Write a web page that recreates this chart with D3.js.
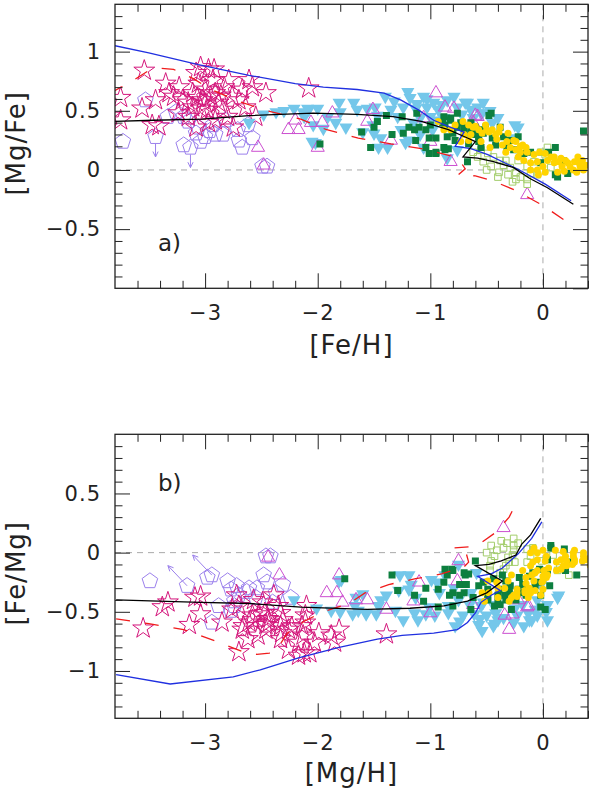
<!DOCTYPE html>
<html><head><meta charset="utf-8">
<script src="https://cdn.jsdelivr.net/npm/d3@7"></script>
<style>body{margin:0;background:#fff}</style>
</head><body>
<svg id="c" width="600" height="791"></svg>
<script>
// ---- data: [Fe/H], [Mg/Fe] ----
const xTickLabels=[-3,-2,-1,0];
const yTickLabelsA=[-0.5,0,0.5,1];
const yTickLabelsB=[-1,-0.5,0,0.5];

const stars=[[-3.54,0.84],[-3.75,0.61],[-3.75,0.42],[-3.56,0.52],[-3.47,0.38],[-3.41,0.37],[-3.44,0.59],[-3.35,0.73],[-3.32,0.65],[-3.28,0.62],[-3.23,0.70],[-3.20,0.59],[-3.24,0.48],[-3.15,0.45],[-3.11,0.65],[-3.08,0.82],[-3.06,0.73],[-3.07,0.61],[-3.02,0.59],[-3.04,0.52],[-3.00,0.68],[-2.97,0.85],[-2.92,0.85],[-2.93,0.76],[-2.98,0.51],[-2.91,0.65],[-2.88,0.57],[-2.84,0.51],[-2.91,0.42],[-2.97,0.40],[-3.08,0.36],[-2.83,0.70],[-2.79,0.76],[-2.76,0.62],[-2.80,0.45],[-2.75,0.36],[-2.70,0.59],[-2.67,0.68],[-2.64,0.53],[-2.61,0.76],[-2.58,0.70],[-2.55,0.45],[-2.46,0.65],[-2.08,0.69],[-3.11,0.53],[-3.04,0.87],[-2.95,0.62],[-3.15,0.57],[-2.86,0.63],[-3.00,0.56],[-4.19,0.64],[-3.84,0.46]];
const pentagons=[[-3.73,0.24],[-3.53,0.59],[-3.33,0.45],[-3.44,0.28],[-3.19,0.45],[-3.15,0.41],[-3.19,0.21],[-3.13,0.19],[-3.08,0.31],[-3.00,0.28],[-2.91,0.30],[-2.84,0.30],[-3.06,0.36],[-2.93,0.38],[-2.71,0.34],[-2.70,0.25],[-2.67,0.19],[-2.58,0.27],[-2.62,0.38],[-2.49,0.03],[-2.45,0.03],[-2.82,0.42],[-3.26,0.49],[-2.96,0.33],[-3.04,0.24]];
const upperLimits=[[-3.44,0.28,0.11],[-3.13,0.19,0.02]];
const openTriangles=[[-2.53,0.19],[-2.26,0.34],[-2.17,0.34],[-2.48,0.04],[-2.20,0.42],[-1.96,0.40],[-1.87,0.48],[-1.56,0.41],[-1.51,0.51],[-2.00,0.19],[-0.95,0.65],[-0.87,0.53],[-0.79,0.52],[-1.06,0.44],[-1.35,0.25],[-0.82,0.07],[-0.60,0.46],[-2.06,0.40],[-0.58,0.45],[-0.62,0.40],[-0.14,-0.21],[-1.00,0.24]];
const blueTriangles=[[-2.61,0.40],[-2.48,0.47],[-2.37,0.49],[-2.13,0.49],[-2.08,0.51],[-2.04,0.38],[-2.05,0.24],[-2.21,0.52],[-2.09,0.52],[-2.00,0.52],[-2.12,0.45],[-2.02,0.23],[-1.91,0.45],[-1.81,0.57],[-1.80,0.49],[-1.84,0.40],[-1.75,0.36],[-1.68,0.57],[-1.65,0.51],[-1.56,0.52],[-1.49,0.53],[-1.47,0.46],[-1.51,0.38],[-1.60,0.32],[-1.50,0.31],[-1.44,0.27],[-1.46,0.19],[-1.38,0.19],[-1.40,0.62],[-1.35,0.51],[-1.29,0.45],[-1.26,0.34],[-1.22,0.23],[-1.20,0.66],[-1.18,0.61],[-1.24,0.53],[-1.13,0.52],[-1.09,0.44],[-1.06,0.62],[-1.03,0.53],[-1.00,0.45],[-0.93,0.51],[-0.97,0.57],[-0.85,0.59],[-0.79,0.62],[-0.88,0.44],[-0.76,0.53],[-0.69,0.57],[-0.64,0.51],[-0.58,0.53],[-0.54,0.48],[-0.53,0.57],[-1.09,0.30],[-1.19,0.25],[-1.06,0.19],[-0.98,0.34],[-0.76,0.17],[-0.67,0.57],[-0.55,0.48],[-0.22,0.36],[-0.29,0.27],[-0.85,0.10],[-0.40,0.44],[-1.12,0.56],[-1.03,0.60],[-0.90,0.55],[-0.72,0.47],[-0.62,0.44],[-0.47,0.50],[-0.45,0.40],[-1.32,0.58],[-1.15,0.40],[-0.95,0.42],[-2.30,0.50],[-1.95,0.35],[-0.25,0.38]];
const greenSquares=[[-1.98,0.22],[-1.61,0.32],[-1.53,0.19],[-1.50,0.36],[-1.47,0.41],[-1.39,0.46],[-1.34,0.30],[-1.25,0.45],[-1.24,0.31],[-1.19,0.36],[-1.14,0.34],[-1.12,0.48],[-1.10,0.36],[-1.04,0.34],[-1.01,0.27],[-1.04,0.19],[-1.01,0.14],[-0.95,0.14],[-1.13,0.25],[-1.00,0.38],[-0.88,0.45],[-0.87,0.38],[-0.82,0.44],[-0.85,0.28],[-0.80,0.31],[-0.78,0.25],[-0.76,0.36],[-0.73,0.40],[-0.70,0.31],[-0.64,0.34],[-0.60,0.36],[-0.57,0.28],[-0.54,0.34],[-0.48,0.46],[-0.88,0.19],[-0.84,0.18],[-0.67,0.07],[-0.95,0.27],[-0.95,0.15],[-0.87,0.17],[-0.89,0.40],[-0.82,0.42],[-0.76,0.48],[-0.70,0.36],[-0.64,0.40],[-0.46,0.48],[-0.51,0.36],[-0.53,0.31],[-0.57,0.24],[-0.38,0.36],[-0.35,0.28],[-0.29,0.25],[-0.22,0.28],[-0.42,0.21],[-0.55,0.19],[-0.17,0.14],[-0.11,0.15],[-0.02,0.06],[0.05,0.15],[0.11,0.19],[0.18,0.08],[0.13,-0.06],[0.22,-0.03],[0.36,0.33],[-0.26,0.17],[0.11,-0.04],[-0.60,0.30],[-0.66,0.22],[-0.45,0.27],[-0.32,0.20]];
const lightSquares=[[-0.55,0.17],[-0.49,0.14],[-0.44,0.11],[-0.38,0.08],[-0.35,0.04],[-0.29,0.02],[-0.24,-0.02],[-0.20,-0.06],[-0.31,-0.04],[-0.39,-0.02],[-0.46,0.03],[-0.53,0.07],[-0.58,0.11],[-0.14,-0.08],[-0.11,-0.03],[-0.02,0.15],[0.02,0.13],[0.07,0.02],[-0.14,0.03],[-0.08,0.07],[-0.33,0.08],[-0.22,0.08],[-0.62,0.15],[-0.40,-0.06],[-0.24,-0.08],[0.04,0.19],[-0.14,-0.12],[-0.50,0.00],[-0.27,-0.10],[-0.05,-0.04]];
const yellowCircles=[[-0.93,0.41],[-0.88,0.34],[-0.71,0.41],[-0.64,0.30],[-0.62,0.36],[-0.57,0.34],[-0.54,0.31],[-0.51,0.38],[-0.48,0.32],[-0.45,0.34],[-0.42,0.30],[-0.39,0.32],[-0.55,0.24],[-0.47,0.19],[-0.32,0.24],[-0.29,0.19],[-0.24,0.17],[-0.20,0.15],[-0.22,0.11],[-0.17,0.08],[-0.11,0.06],[-0.05,0.07],[0.00,0.03],[-0.05,0.00],[-0.11,0.00],[-0.04,-0.04],[0.04,0.08],[0.07,0.11],[0.10,0.06],[0.14,0.07],[0.17,0.03],[0.22,0.06],[0.24,0.03],[0.27,0.00],[0.32,0.06],[0.35,0.08],[0.31,0.11],[0.36,0.00],[0.13,-0.02],[0.02,-0.02],[-0.08,0.13],[-0.14,0.15],[-0.33,0.15],[-0.36,0.21],[-0.82,0.34],[-0.78,0.38],[-0.70,0.30],[-0.66,0.25],[-0.73,0.24],[-0.24,0.24],[-0.18,0.21],[-0.66,0.38],[-0.60,0.37],[-0.50,0.34],[-0.38,0.36],[-0.31,0.31],[-0.26,0.25],[-0.20,0.20],[-0.15,0.19],[-0.03,0.15],[0.02,0.14],[0.10,0.11],[0.16,0.10],[0.20,0.08],[0.28,0.07],[0.33,0.03],[0.38,0.04],[0.30,-0.02],[0.19,-0.01],[-0.41,0.26]];

const blueModel=[[-4.82,1.03],[-4.42,1.11],[-3.80,1.05],[-3.50,0.99],[-3.06,0.89],[-2.61,0.80],[-2.20,0.73],[-1.95,0.70],[-1.65,0.68],[-1.41,0.65],[-1.26,0.59],[-1.11,0.51],[-0.97,0.42],[-0.82,0.36],[-0.70,0.32],[-0.78,0.20],[-0.64,0.18],[-0.49,0.13],[-0.23,0.01],[0.02,-0.12],[0.25,-0.26]];
const blackModel=[[-4.19,0.40],[-3.46,0.42],[-3.03,0.43],[-2.61,0.46],[-2.04,0.48],[-1.65,0.47],[-1.33,0.45],[-1.08,0.41],[-0.84,0.34],[-0.67,0.27],[-0.60,0.24],[-0.71,0.11],[-0.58,0.10],[-0.44,0.07],[-0.26,0.02],[-0.12,-0.07],[0.04,-0.15],[0.27,-0.29]];
const redModel=[[-4.35,0.56],[-4.10,0.60],[-3.84,0.65],[-3.65,0.75],[-3.50,0.84],[-3.40,0.86],[-3.28,0.85],[-3.10,0.77],[-2.95,0.68],[-2.70,0.58],[-2.45,0.50],[-2.15,0.43],[-1.92,0.34],[-1.64,0.27],[-1.35,0.22],[-1.08,0.18],[-0.82,0.12],[-0.74,0.08],[-0.69,0.01],[-0.75,-0.04],[-0.60,-0.05],[-0.45,-0.09],[-0.25,-0.17],[0.00,-0.30],[0.23,-0.45]];

// ---- drawing ----
const svg=d3.select("#c");
const FONT="DejaVu Sans, Verdana, sans-serif";
const x=d3.scaleLinear().domain([-3.8,0.4]).range([115,588]);
const panels=[
 {id:"a",top:4.3,bottom:288.3,ydom:[-1,1.4],yLab:yTickLabelsA,
  map:d=>[d[0],d[1]],label:"a)",labelY:251,xTitle:"[Fe/H]",xTitleY:354,yTitle:"[Mg/Fe]",
  limMap:(d)=>[[d[0],d[1]],[d[0],d[2]]]},
 {id:"b",top:434.3,bottom:718.3,ydom:[-1.4,1.0],yLab:yTickLabelsB,
  map:d=>[d[0]+d[1],-d[1]],label:"b)",labelY:491,xTitle:"[Mg/H]",xTitleY:782,yTitle:"[Fe/Mg]",
  limMap:(d)=>[[d[0]+d[1],-d[1]],[d[0]+d[2],-d[2]]]}
];
function poly(n,r,rot){
  const pts=d3.range(n).map(i=>{const a=rot+i*2*Math.PI/n;return [r*Math.sin(a),-r*Math.cos(a)];});
  return "M"+pts.map(p=>p[0].toFixed(2)+","+p[1].toFixed(2)).join("L")+"Z";
}
const starPath=d3.symbol(d3.symbolStar,135)();
const pentPath=poly(5,8.2,0);
const triPath=poly(3,7.6,0);
const invTriPath=poly(3,7.6,Math.PI);
const sqPath="M-3.5,-3.5h7v7h-7Z";
const lsqPath="M-3.3,-3.3h6.6v6.6h-6.6Z";

const xMinor=d3.range(-3.6,0.401,0.2).map(v=>+v.toFixed(2)).filter(v=>Math.abs(v-Math.round(v))>1e-6);

panels.forEach(p=>{
  const y=d3.scaleLinear().domain(p.ydom).range([p.bottom,p.top]);
  const g=svg.append("g");
  const clipId="clip"+p.id;
  svg.append("clipPath").attr("id",clipId).append("rect")
    .attr("x",x.range()[0]).attr("y",p.top).attr("width",x.range()[1]-x.range()[0]).attr("height",p.bottom-p.top);
  g.append("line").attr("x1",x.range()[0]).attr("x2",x.range()[1]).attr("y1",y(0)).attr("y2",y(0))
    .attr("stroke","#aaa").attr("stroke-width",1).attr("stroke-dasharray","6,5");
  g.append("line").attr("x1",x(0)).attr("x2",x(0)).attr("y1",p.top).attr("y2",p.bottom)
    .attr("stroke","#aaa").attr("stroke-width",1).attr("stroke-dasharray","6,5");

  const dg=g.append("g").attr("clip-path",`url(#${clipId})`);
  const pos=d=>{const m=p.map(d);return `translate(${x(m[0])},${y(m[1])})`;};
  function marks(data,path,fill,stroke,sw){
    dg.append("g").selectAll("path").data(data).join("path")
      .attr("d",path).attr("transform",pos)
      .attr("fill",fill).attr("stroke",stroke).attr("stroke-width",sw);
  }
  marks(pentagons,pentPath,"none","#9b80ec",1);
  upperLimits.forEach(d=>{
    const [a,b]=p.limMap(d);
    const x1=x(a[0]),y1=y(a[1])+(p.id==="a"?7:0),x2=x(b[0]),y2=y(b[1]);
    dg.append("line").attr("x1",x1).attr("y1",y1).attr("x2",x2).attr("y2",y2).attr("stroke","#9b80ec").attr("stroke-width",1);
    const ang=Math.atan2(y2-y1,x2-x1);
    const h=6;
    const pA=[x2-h*Math.cos(ang-0.45),y2-h*Math.sin(ang-0.45)];
    const pB=[x2-h*Math.cos(ang+0.45),y2-h*Math.sin(ang+0.45)];
    dg.append("path").attr("d",`M${pA}L${x2},${y2}L${pB}`).attr("fill","none").attr("stroke","#9b80ec").attr("stroke-width",1);
  });
  marks(stars,starPath,"none","#d4157b",1);
  marks(blueTriangles,invTriPath,"#74c7ea","none",0);
  marks(openTriangles,triPath,"none","#cc4fd0",1);
  marks(lightSquares,lsqPath,"none","#a3cd6b",1);
  marks(greenSquares,sqPath,"#0d7f3f","none",0);
  dg.append("g").selectAll("circle").data(yellowCircles).join("circle")
    .attr("cx",d=>x(p.map(d)[0])).attr("cy",d=>y(p.map(d)[1])).attr("r",3.5).attr("fill","#ffd400");

  const line=d3.line().x(d=>x(p.map(d)[0])).y(d=>y(p.map(d)[1]));
  dg.append("path").datum(redModel).attr("d",line).attr("fill","none").attr("stroke","#f01c1c").attr("stroke-width",1.3).attr("stroke-dasharray","14,15");
  dg.append("path").datum(blueModel).attr("d",line).attr("fill","none").attr("stroke","#2030e0").attr("stroke-width",1.3);
  dg.append("path").datum(blackModel).attr("d",line).attr("fill","none").attr("stroke","#000").attr("stroke-width",1.3);

  g.append("rect").attr("x",x.range()[0]).attr("y",p.top).attr("width",x.range()[1]-x.range()[0]).attr("height",p.bottom-p.top)
    .attr("fill","none").attr("stroke","#222").attr("stroke-width",1.3);

  const yMinor=d3.range(p.ydom[0]+0.1,p.ydom[1]-0.05,0.1).map(v=>+v.toFixed(2)).filter(v=>Math.abs(v*2-Math.round(v*2))>1e-6);
  const yMajor=d3.range(p.ydom[0],p.ydom[1]+0.001,0.5).map(v=>+v.toFixed(2)).filter(v=>Math.abs(v*2-Math.round(v*2))<1e-6);
  const fmtY=v=>d3.format("~g")(v);
  const clean=sel=>{sel.select(".domain").remove();sel.selectAll("line").attr("stroke","#222");
    sel.attr("font-family",FONT).attr("font-size",21).selectAll("text").attr("fill","#222").attr("letter-spacing","1px");};
  const MJ=15, MN=7.5;
  g.append("g").attr("transform",`translate(0,${p.bottom})`)
    .call(d3.axisBottom(x).tickValues(xTickLabels).tickSizeInner(-MJ).tickSizeOuter(0).tickPadding(17).tickFormat(d3.format("d"))).call(clean);
  g.append("g").attr("transform",`translate(0,${p.bottom})`)
    .call(d3.axisBottom(x).tickValues(xMinor).tickSizeInner(-MN).tickSizeOuter(0).tickFormat("")).call(clean);
  g.append("g").attr("transform",`translate(0,${p.top})`)
    .call(d3.axisTop(x).tickValues(xTickLabels).tickSizeInner(-MJ).tickSizeOuter(0).tickFormat("")).call(clean);
  g.append("g").attr("transform",`translate(0,${p.top})`)
    .call(d3.axisTop(x).tickValues(xMinor).tickSizeInner(-MN).tickSizeOuter(0).tickFormat("")).call(clean);
  g.append("g").attr("transform",`translate(${x.range()[0]},0)`)
    .call(d3.axisLeft(y).tickValues(p.yLab).tickSizeInner(-MJ).tickSizeOuter(0).tickPadding(14).tickFormat(fmtY)).call(clean);
  g.append("g").attr("transform",`translate(${x.range()[0]},0)`)
    .call(d3.axisLeft(y).tickValues(yMinor).tickSizeInner(-MN).tickSizeOuter(0).tickFormat("")).call(clean);
  g.append("g").attr("transform",`translate(${x.range()[1]},0)`)
    .call(d3.axisRight(y).tickValues(yMajor).tickSizeInner(-MJ).tickSizeOuter(0).tickFormat("")).call(clean);
  g.append("g").attr("transform",`translate(${x.range()[1]},0)`)
    .call(d3.axisRight(y).tickValues(yMinor).tickSizeInner(-MN).tickSizeOuter(0).tickFormat("")).call(clean);

  g.append("text").attr("x",(x.range()[0]+x.range()[1])/2).attr("y",p.xTitleY).attr("text-anchor","middle")
    .attr("font-family",FONT).attr("font-size",26).attr("letter-spacing","1px").attr("fill","#222").text(p.xTitle);
  g.append("text").attr("transform",`translate(25,${(p.top+p.bottom)/2-3}) rotate(-90)`).attr("text-anchor","middle")
    .attr("font-family",FONT).attr("font-size",26).attr("letter-spacing","1px").attr("fill","#222").text(p.yTitle);
  g.append("text").attr("x",158).attr("y",p.labelY).attr("font-family",FONT).attr("font-size",23).attr("fill","#222").text(p.label);
});
</script>
</body></html>
